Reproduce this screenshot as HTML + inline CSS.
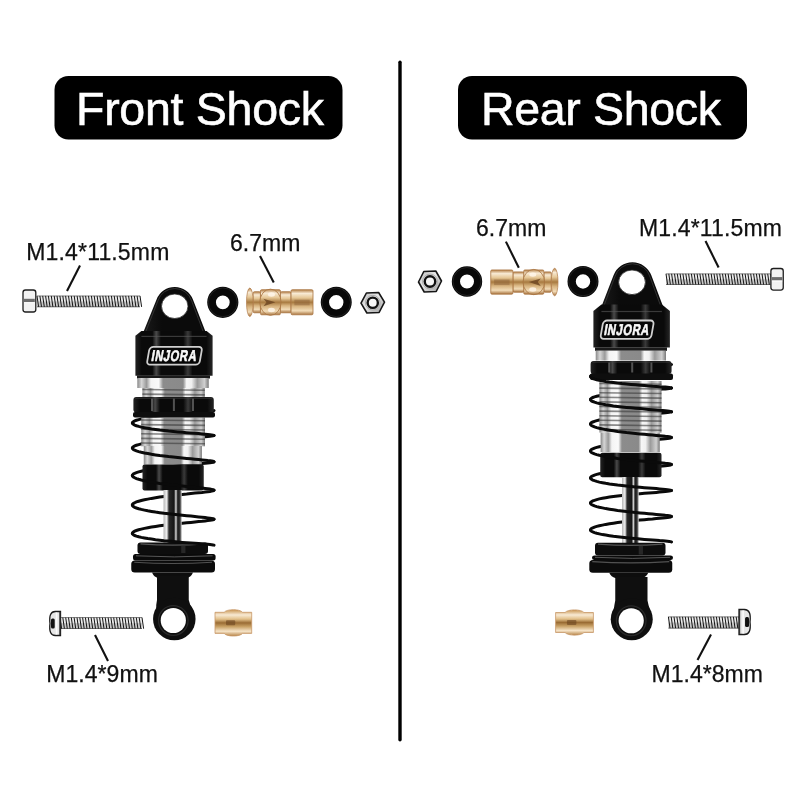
<!DOCTYPE html><html><head><meta charset="utf-8"><style>html,body{margin:0;padding:0;background:#fff;}svg{display:block;will-change:transform;}text{font-family:"Liberation Sans",sans-serif;}</style></head><body>
<svg width="800" height="800" viewBox="0 0 800 800">
<defs>
<linearGradient id="silverg" x1="0" x2="1" y1="0" y2="0">
<stop offset="0" stop-color="#8a8a8a"/><stop offset="0.06" stop-color="#d6d6d6"/><stop offset="0.13" stop-color="#9a9a9a"/><stop offset="0.19" stop-color="#f4f4f4"/><stop offset="0.3" stop-color="#fafafa"/>
<stop offset="0.36" stop-color="#8c8c8c"/><stop offset="0.64" stop-color="#8a8a8a"/><stop offset="0.69" stop-color="#f6f6f6"/><stop offset="0.76" stop-color="#f0f0f0"/><stop offset="0.84" stop-color="#9a9a9a"/><stop offset="0.94" stop-color="#d0d0d0"/><stop offset="1" stop-color="#7a7a7a"/></linearGradient>
<linearGradient id="blackg" x1="0" x2="1" y1="0" y2="0">
<stop offset="0" stop-color="#222"/><stop offset="0.08" stop-color="#0a0a0a"/><stop offset="0.22" stop-color="#0a0a0a"/><stop offset="0.27" stop-color="#4a4a4a"/><stop offset="0.33" stop-color="#0a0a0a"/>
<stop offset="0.62" stop-color="#0a0a0a"/><stop offset="0.68" stop-color="#3a3a3a"/><stop offset="0.74" stop-color="#0a0a0a"/><stop offset="0.92" stop-color="#0a0a0a"/><stop offset="1" stop-color="#262626"/></linearGradient>
<linearGradient id="earg" x1="0" x2="1" y1="0" y2="0">
<stop offset="0" stop-color="#1a1a1a"/><stop offset="0.3" stop-color="#0b0b0b"/><stop offset="1" stop-color="#0b0b0b"/></linearGradient>
<linearGradient id="shaftg" x1="0" x2="1" y1="0" y2="0">
<stop offset="0" stop-color="#b8b8b8"/><stop offset="0.18" stop-color="#f0f0f0"/><stop offset="0.3" stop-color="#2a2a2a"/><stop offset="0.58" stop-color="#151515"/><stop offset="0.68" stop-color="#d8d8d8"/><stop offset="0.78" stop-color="#1a1a1a"/><stop offset="0.9" stop-color="#333"/><stop offset="1" stop-color="#c8c8c8"/></linearGradient>
<linearGradient id="brassg" x1="0" x2="0" y1="0" y2="1">
<stop offset="0" stop-color="#b48048"/><stop offset="0.15" stop-color="#f8ead4"/><stop offset="0.32" stop-color="#e6c898"/><stop offset="0.5" stop-color="#a87a40"/><stop offset="0.66" stop-color="#d8b480"/><stop offset="0.84" stop-color="#f2dcb8"/><stop offset="1" stop-color="#a87440"/></linearGradient>
<linearGradient id="thread" x1="0" x2="0" y1="0" y2="1">
<stop offset="0" stop-color="#777"/><stop offset="0.35" stop-color="#e0e0e0"/><stop offset="0.65" stop-color="#666"/><stop offset="1" stop-color="#444"/></linearGradient>
<linearGradient id="headg" x1="0" x2="0" y1="0" y2="1">
<stop offset="0" stop-color="#d0d0d0"/><stop offset="0.35" stop-color="#f6f6f6"/><stop offset="0.5" stop-color="#555"/><stop offset="0.65" stop-color="#eee"/><stop offset="1" stop-color="#bbb"/></linearGradient>
<linearGradient id="bushg" x1="0" x2="0" y1="0" y2="1">
<stop offset="0" stop-color="#c89450"/><stop offset="0.2" stop-color="#f8ead4"/><stop offset="0.36" stop-color="#e2c08a"/><stop offset="0.5" stop-color="#9a6c34"/><stop offset="0.64" stop-color="#c8a064"/><stop offset="0.82" stop-color="#f6e4c8"/><stop offset="1" stop-color="#b8864a"/></linearGradient>
<linearGradient id="nutg" x1="0" x2="1" y1="0" y2="1">
<stop offset="0" stop-color="#bdbdbd"/><stop offset="0.45" stop-color="#e8e8e8"/><stop offset="1" stop-color="#9a9a9a"/></linearGradient>
</defs>
<rect width="800" height="800" fill="#fff"/>
<line x1="400" y1="62.2" x2="400" y2="739.8" stroke="#000" stroke-width="3.4" stroke-linecap="round"/>
<rect x="54.5" y="76" width="288" height="63.5" rx="14" fill="#000"/>
<rect x="458" y="76" width="289" height="63.5" rx="14" fill="#000"/>
<text x="76" y="124.8" font-size="46.5" fill="#fff" stroke="#fff" stroke-width="0.6" textLength="248">Front Shock</text>
<text x="481" y="124.8" font-size="46.5" fill="#fff" stroke="#fff" stroke-width="0.6" textLength="240">Rear Shock</text>
<text x="26.3" y="259.6" font-size="23" fill="#111" stroke="#111" stroke-width="0.25" textLength="143">M1.4*11.5mm</text>
<text x="230" y="251" font-size="23" fill="#111" stroke="#111" stroke-width="0.25" textLength="70.5">6.7mm</text>
<text x="46.3" y="681.8" font-size="23" fill="#111" stroke="#111" stroke-width="0.25" textLength="111.5">M1.4*9mm</text>
<text x="476" y="236" font-size="23" fill="#111" stroke="#111" stroke-width="0.25" textLength="70.5">6.7mm</text>
<text x="639" y="235.5" font-size="23" fill="#111" stroke="#111" stroke-width="0.25" textLength="143">M1.4*11.5mm</text>
<text x="651.5" y="681.6" font-size="23" fill="#111" stroke="#111" stroke-width="0.25" textLength="111.5">M1.4*8mm</text>
<line x1="80" y1="265.6" x2="67" y2="291" stroke="#111" stroke-width="2.1"/>
<line x1="260" y1="256" x2="273.75" y2="282.5" stroke="#111" stroke-width="2.1"/>
<line x1="95" y1="635" x2="108" y2="661" stroke="#111" stroke-width="2.1"/>
<line x1="505.9" y1="241.6" x2="518.8" y2="267.75" stroke="#111" stroke-width="2.1"/>
<line x1="705.5" y1="241" x2="718.6" y2="267.5" stroke="#111" stroke-width="2.1"/>
<line x1="711" y1="634.5" x2="697.5" y2="660" stroke="#111" stroke-width="2.1"/>
<rect x="37" y="295.6" width="103" height="11.6" rx="0" fill="#ececec" /><rect x="37" y="301.4" width="103" height="5.8" rx="0" fill="#888" opacity="0.35"/><path d="M37.0,295.9 L38.6,306.9 M39.9,295.9 L41.5,306.9 M42.7,295.9 L44.3,306.9 M45.6,295.9 L47.2,306.9 M48.4,295.9 L50.0,306.9 M51.3,295.9 L52.9,306.9 M54.2,295.9 L55.8,306.9 M57.0,295.9 L58.6,306.9 M59.9,295.9 L61.5,306.9 M62.8,295.9 L64.3,306.9 M65.6,295.9 L67.2,306.9 M68.5,295.9 L70.1,306.9 M71.3,295.9 L72.9,306.9 M74.2,295.9 L75.8,306.9 M77.1,295.9 L78.7,306.9 M79.9,295.9 L81.5,306.9 M82.8,295.9 L84.4,306.9 M85.6,295.9 L87.2,306.9 M88.5,295.9 L90.1,306.9 M91.4,295.9 L93.0,306.9 M94.2,295.9 L95.8,306.9 M97.1,295.9 L98.7,306.9 M99.9,295.9 L101.5,306.9 M102.8,295.9 L104.4,306.9 M105.7,295.9 L107.3,306.9 M108.5,295.9 L110.1,306.9 M111.4,295.9 L113.0,306.9 M114.2,295.9 L115.8,306.9 M117.1,295.9 L118.7,306.9 M120.0,295.9 L121.6,306.9 M122.8,295.9 L124.4,306.9 M125.7,295.9 L127.3,306.9 M128.6,295.9 L130.2,306.9 M131.4,295.9 L133.0,306.9 M134.3,295.9 L135.9,306.9 M137.1,295.9 L138.7,306.9 M140.0,295.9 L141.6,306.9 " stroke="#141414" stroke-width="1.0" fill="none"/><rect x="37" y="295.6" width="103" height="0.8" rx="0" fill="#333" opacity="0.7"/><rect x="37" y="306.4" width="103" height="0.8" rx="0" fill="#222" opacity="0.7"/><rect x="23" y="290" width="12.8" height="22" rx="2.5" fill="#f2f2f2" stroke="#1e1e1e" stroke-width="1.3"/><rect x="24" y="298.8" width="10.8" height="3.4" rx="0" fill="#555" opacity="0.85"/><rect x="24" y="302.2" width="10.8" height="1" rx="0" fill="#fff" />
<circle cx="222.8" cy="302.3" r="11.25" fill="none" stroke="#080808" stroke-width="8.7"/><circle cx="222.8" cy="302.3" r="14.4" fill="none" stroke="#3a3a3a" stroke-width="0.8" opacity="0.6"/>
<rect x="253.15" y="291.7" width="7.31" height="21.09" rx="1.2" fill="url(#brassg)" stroke="#a87440" stroke-width="0.8"/><rect x="260.46" y="289.71" width="19.95" height="25.08" rx="1.2" fill="url(#brassg)" stroke="#a87440" stroke-width="0.8"/><rect x="280.42" y="291.7" width="10.64" height="21.09" rx="1.2" fill="url(#brassg)" stroke="#a87440" stroke-width="0.8"/><rect x="291.06" y="289.71" width="21.94" height="25.08" rx="1.2" fill="url(#brassg)" stroke="#a87440" stroke-width="0.8"/><ellipse cx="249.82" cy="302.25" rx="3.33" ry="14.25" fill="url(#brassg)" stroke="#b07a48" stroke-width="0.7"/><ellipse cx="270.44" cy="302.25" rx="10.64" ry="13.11" fill="url(#brassg)" stroke="#a87440" stroke-width="0.8"/><path d="M263.44,298.75 L275.44,302.25 L263.44,306.25 L266.44,302.25 Z" fill="#6a4420" opacity="0.8"/><ellipse cx="271.44" cy="294.56" rx="3.5" ry="2.2" fill="#fff6ea" opacity="0.85"/><ellipse cx="271.44" cy="309.94" rx="3.5" ry="2.2" fill="#fff6ea" opacity="0.85"/><rect x="294.38" y="299.75" width="15.3" height="5.5" rx="0" fill="#8a6038" opacity="0.45"/>
<circle cx="336.25" cy="302.3" r="11.35" fill="none" stroke="#080808" stroke-width="8.3"/><circle cx="336.25" cy="302.3" r="14.3" fill="none" stroke="#3a3a3a" stroke-width="0.8" opacity="0.6"/>
<polygon points="361.0,303.2 366.4,293.0 378.6,292.5 384.5,302.2 379.1,312.5 366.9,313.0" fill="url(#nutg)" stroke="#161616" stroke-width="1.6" stroke-linejoin="round"/><circle cx="372.75" cy="302.75" r="5.12" fill="#f6f6f6" stroke="#111" stroke-width="2.4"/><circle cx="372.75" cy="302.75" r="7.33" fill="none" stroke="#aaa" stroke-width="1"/>
<rect x="60" y="617.2" width="82" height="11.8" rx="0" fill="#ececec" /><rect x="60" y="623.1" width="82" height="5.9" rx="0" fill="#888" opacity="0.35"/><path d="M60.0,617.5 L61.6,628.7 M62.8,617.5 L64.4,628.7 M65.7,617.5 L67.3,628.7 M68.5,617.5 L70.1,628.7 M71.3,617.5 L72.9,628.7 M74.1,617.5 L75.7,628.7 M77.0,617.5 L78.6,628.7 M79.8,617.5 L81.4,628.7 M82.6,617.5 L84.2,628.7 M85.4,617.5 L87.0,628.7 M88.3,617.5 L89.9,628.7 M91.1,617.5 L92.7,628.7 M93.9,617.5 L95.5,628.7 M96.8,617.5 L98.4,628.7 M99.6,617.5 L101.2,628.7 M102.4,617.5 L104.0,628.7 M105.2,617.5 L106.8,628.7 M108.1,617.5 L109.7,628.7 M110.9,617.5 L112.5,628.7 M113.7,617.5 L115.3,628.7 M116.6,617.5 L118.2,628.7 M119.4,617.5 L121.0,628.7 M122.2,617.5 L123.8,628.7 M125.0,617.5 L126.6,628.7 M127.9,617.5 L129.5,628.7 M130.7,617.5 L132.3,628.7 M133.5,617.5 L135.1,628.7 M136.3,617.5 L137.9,628.7 M139.2,617.5 L140.8,628.7 M142.0,617.5 L143.6,628.7 " stroke="#141414" stroke-width="1.0" fill="none"/><rect x="60" y="617.2" width="82" height="0.8" rx="0" fill="#333" opacity="0.7"/><rect x="60" y="628.2" width="82" height="0.8" rx="0" fill="#222" opacity="0.7"/><path d="M60.5,611.5 L55.25,611.5 Q48.5,611.5 50,623.5 Q48.5,635.5 55.25,635.5 L60.5,635.5 Z" fill="#e6e6e6" stroke="#1a1a1a" stroke-width="1.3"/><rect x="51" y="618.5" width="3.73" height="10" rx="1.5" fill="#111" /><rect x="55.77" y="612.5" width="1.58" height="22" rx="0" fill="#fafafa" /><rect x="59.3" y="612" width="1.2" height="23" rx="0" fill="#333" />
<path d="M215,612.3 L224.18,612.3 C226.74,608.8 239.96,608.8 242.52,612.3 L251.7,612.3 L251.7,633.4 L242.52,633.4 C239.96,636.9 226.74,636.9 224.18,633.4 L215,633.4 Z" fill="url(#bushg)" stroke="#c89868" stroke-width="0.8"/><rect x="226.01" y="620.35" width="9.18" height="5" rx="1" fill="#6a4420" opacity="0.6"/>
<polygon points="418.5,282.0 423.8,271.5 435.8,271.0 441.5,281.0 436.2,291.5 424.2,292.0" fill="url(#nutg)" stroke="#161616" stroke-width="1.6" stroke-linejoin="round"/><circle cx="430" cy="281.5" r="5.25" fill="#f6f6f6" stroke="#111" stroke-width="2.4"/><circle cx="430" cy="281.5" r="7.45" fill="none" stroke="#aaa" stroke-width="1"/>
<circle cx="467" cy="281.5" r="11.1" fill="none" stroke="#080808" stroke-width="8.2"/><circle cx="467" cy="281.5" r="14" fill="none" stroke="#3a3a3a" stroke-width="0.8" opacity="0.6"/>
<rect x="543.88" y="271.88" width="7.4" height="20.35" rx="1.2" fill="url(#brassg)" stroke="#a87440" stroke-width="0.8"/><rect x="523.7" y="269.95" width="20.18" height="24.2" rx="1.2" fill="url(#brassg)" stroke="#a87440" stroke-width="0.8"/><rect x="512.94" y="271.88" width="10.76" height="20.35" rx="1.2" fill="url(#brassg)" stroke="#a87440" stroke-width="0.8"/><rect x="490.75" y="269.95" width="22.19" height="24.2" rx="1.2" fill="url(#brassg)" stroke="#a87440" stroke-width="0.8"/><ellipse cx="554.64" cy="282.05" rx="3.36" ry="13.75" fill="url(#brassg)" stroke="#b07a48" stroke-width="0.7"/><ellipse cx="533.79" cy="282.05" rx="10.76" ry="12.65" fill="url(#brassg)" stroke="#a87440" stroke-width="0.8"/><path d="M540.79,278.55 L528.79,282.05 L540.79,286.05 L537.79,282.05 Z" fill="#6a4420" opacity="0.8"/><ellipse cx="532.79" cy="274.62" rx="3.5" ry="2.2" fill="#fff6ea" opacity="0.85"/><ellipse cx="532.79" cy="289.48" rx="3.5" ry="2.2" fill="#fff6ea" opacity="0.85"/><rect x="494.11" y="279.55" width="15.47" height="5.5" rx="0" fill="#8a6038" opacity="0.45"/>
<circle cx="583" cy="281.5" r="11.35" fill="none" stroke="#080808" stroke-width="8.3"/><circle cx="583" cy="281.5" r="14.3" fill="none" stroke="#3a3a3a" stroke-width="0.8" opacity="0.6"/>
<rect x="666" y="273.5" width="104.5" height="11.5" rx="0" fill="#ececec" /><rect x="666" y="279.25" width="104.5" height="5.75" rx="0" fill="#888" opacity="0.35"/><path d="M666.0,273.8 L667.6,284.7 M668.8,273.8 L670.4,284.7 M671.6,273.8 L673.2,284.7 M674.5,273.8 L676.1,284.7 M677.3,273.8 L678.9,284.7 M680.1,273.8 L681.7,284.7 M682.9,273.8 L684.5,284.7 M685.8,273.8 L687.4,284.7 M688.6,273.8 L690.2,284.7 M691.4,273.8 L693.0,284.7 M694.2,273.8 L695.8,284.7 M697.1,273.8 L698.7,284.7 M699.9,273.8 L701.5,284.7 M702.7,273.8 L704.3,284.7 M705.5,273.8 L707.1,284.7 M708.4,273.8 L710.0,284.7 M711.2,273.8 L712.8,284.7 M714.0,273.8 L715.6,284.7 M716.8,273.8 L718.4,284.7 M719.7,273.8 L721.3,284.7 M722.5,273.8 L724.1,284.7 M725.3,273.8 L726.9,284.7 M728.1,273.8 L729.7,284.7 M731.0,273.8 L732.6,284.7 M733.8,273.8 L735.4,284.7 M736.6,273.8 L738.2,284.7 M739.4,273.8 L741.0,284.7 M742.3,273.8 L743.9,284.7 M745.1,273.8 L746.7,284.7 M747.9,273.8 L749.5,284.7 M750.7,273.8 L752.3,284.7 M753.6,273.8 L755.2,284.7 M756.4,273.8 L758.0,284.7 M759.2,273.8 L760.8,284.7 M762.0,273.8 L763.6,284.7 M764.9,273.8 L766.5,284.7 M767.7,273.8 L769.3,284.7 M770.5,273.8 L772.1,284.7 " stroke="#141414" stroke-width="1.0" fill="none"/><rect x="666" y="273.5" width="104.5" height="0.8" rx="0" fill="#333" opacity="0.7"/><rect x="666" y="284.2" width="104.5" height="0.8" rx="0" fill="#222" opacity="0.7"/><rect x="770.9" y="268.5" width="12.35" height="21.6" rx="2.5" fill="#f2f2f2" stroke="#1e1e1e" stroke-width="1.3"/><rect x="771.9" y="277.1" width="10.35" height="3.4" rx="0" fill="#555" opacity="0.85"/><rect x="771.9" y="280.5" width="10.35" height="1" rx="0" fill="#fff" />
<path d="M555.6,612.5 L565.05,612.5 C567.7,609 581.3,609 583.95,612.5 L593.4,612.5 L593.4,632.5 L583.95,632.5 C581.3,636 567.7,636 565.05,632.5 L555.6,632.5 Z" fill="url(#bushg)" stroke="#c89868" stroke-width="0.8"/><rect x="566.94" y="620" width="9.45" height="5" rx="1" fill="#6a4420" opacity="0.6"/>
<rect x="668.4" y="616.5" width="70.6" height="12" rx="0" fill="#ececec" /><rect x="668.4" y="622.5" width="70.6" height="6" rx="0" fill="#888" opacity="0.35"/><path d="M668.4,616.8 L670.0,628.2 M671.2,616.8 L672.8,628.2 M674.0,616.8 L675.6,628.2 M676.9,616.8 L678.5,628.2 M679.7,616.8 L681.3,628.2 M682.5,616.8 L684.1,628.2 M685.3,616.8 L686.9,628.2 M688.2,616.8 L689.8,628.2 M691.0,616.8 L692.6,628.2 M693.8,616.8 L695.4,628.2 M696.6,616.8 L698.2,628.2 M699.5,616.8 L701.1,628.2 M702.3,616.8 L703.9,628.2 M705.1,616.8 L706.7,628.2 M707.9,616.8 L709.5,628.2 M710.8,616.8 L712.4,628.2 M713.6,616.8 L715.2,628.2 M716.4,616.8 L718.0,628.2 M719.2,616.8 L720.8,628.2 M722.1,616.8 L723.7,628.2 M724.9,616.8 L726.5,628.2 M727.7,616.8 L729.3,628.2 M730.5,616.8 L732.1,628.2 M733.4,616.8 L735.0,628.2 M736.2,616.8 L737.8,628.2 M739.0,616.8 L740.6,628.2 " stroke="#141414" stroke-width="1.0" fill="none"/><rect x="668.4" y="616.5" width="70.6" height="0.8" rx="0" fill="#333" opacity="0.7"/><rect x="668.4" y="627.7" width="70.6" height="0.8" rx="0" fill="#222" opacity="0.7"/><path d="M739,609.5 L744.5,609.5 Q751.5,609.5 750,622 Q751.5,634.5 744.5,634.5 L739,634.5 Z" fill="#e6e6e6" stroke="#1a1a1a" stroke-width="1.3"/><rect x="745.05" y="617" width="3.95" height="10" rx="1.5" fill="#111" /><rect x="742.3" y="610.5" width="1.65" height="23" rx="0" fill="#fafafa" /><rect x="739" y="610" width="1.2" height="24" rx="0" fill="#333" />
<path d="M214.0,410.5 L213.7,410.7 L213.0,410.9 L211.7,411.1 L210.0,411.3 L207.7,411.6 L205.1,411.8 L202.0,412.1 L198.6,412.4 L194.9,412.7 L190.9,413.0 L186.7,413.3 L182.3,413.7 L177.8,414.1 L173.2,414.6 L168.6,415.0 L164.1,415.5 L159.7,416.0 L155.5,416.6 L151.5,417.1 L147.8,417.7 L144.4,418.3 L141.3,418.9 L138.7,419.6 L136.4,420.3 L134.7,420.9 L133.4,421.6 L132.7,422.3 L132.4,423.0 M214.0,435.5 L213.7,435.7 L213.0,435.9 L211.7,436.1 L210.0,436.3 L207.7,436.6 L205.1,436.8 L202.0,437.1 L198.6,437.4 L194.9,437.7 L190.9,438.0 L186.7,438.3 L182.3,438.7 L177.8,439.1 L173.2,439.6 L168.6,440.0 L164.1,440.5 L159.7,441.0 L155.5,441.6 L151.5,442.1 L147.8,442.7 L144.4,443.3 L141.3,443.9 L138.7,444.6 L136.4,445.3 L134.7,445.9 L133.4,446.6 L132.7,447.3 L132.4,448.0 M214.0,461.8 L213.7,462.0 L213.0,462.2 L211.7,462.5 L210.0,462.8 L207.7,463.0 L205.1,463.3 L202.0,463.6 L198.6,464.0 L194.9,464.3 L190.9,464.7 L186.7,465.1 L182.3,465.5 L177.8,465.9 L173.2,466.4 L168.6,466.9 L164.1,467.5 L159.7,468.0 L155.5,468.6 L151.5,469.2 L147.8,469.9 L144.4,470.5 L141.3,471.2 L138.7,471.9 L136.4,472.6 L134.7,473.3 L133.4,474.0 L132.7,474.8 L132.4,475.5 M214.0,490.2 L213.7,490.5 L213.0,490.8 L211.7,491.1 L210.0,491.4 L207.7,491.7 L205.1,492.0 L202.0,492.4 L198.6,492.7 L194.9,493.1 L190.9,493.5 L186.7,494.0 L182.3,494.4 L177.8,494.9 L173.2,495.4 L168.6,496.0 L164.1,496.5 L159.7,497.1 L155.5,497.8 L151.5,498.4 L147.8,499.1 L144.4,499.8 L141.3,500.5 L138.7,501.2 L136.4,501.9 L134.7,502.7 L133.4,503.5 L132.7,504.2 L132.4,505.0 M214.0,519.2 L213.7,519.5 L213.0,519.8 L211.7,520.1 L210.0,520.3 L207.7,520.6 L205.1,520.9 L202.0,521.3 L198.6,521.6 L194.9,522.0 L190.9,522.4 L186.7,522.8 L182.3,523.2 L177.8,523.7 L173.2,524.2 L168.6,524.7 L164.1,525.2 L159.7,525.8 L155.5,526.4 L151.5,527.1 L147.8,527.7 L144.4,528.4 L141.3,529.1 L138.7,529.8 L136.4,530.5 L134.7,531.2 L133.4,532.0 L132.7,532.7 L132.4,533.5" fill="none" stroke="#0a0a0a" stroke-width="3.0" stroke-linecap="round"/><rect x="142.4" y="387" width="62.4" height="11" rx="0" fill="url(#silverg)" /><path d="M142.4,389.5 L204.8,390.3 M142.4,394.1 L204.8,394.9 " stroke="#3a3a3a" stroke-width="1.6" opacity="0.6" fill="none"/><rect x="141.25" y="417.5" width="63.75" height="28.8" rx="0" fill="url(#silverg)" /><path d="M141.2,420.0 L205.0,420.8 M141.2,424.6 L205.0,425.4 M141.2,429.2 L205.0,430.0 M141.2,433.8 L205.0,434.6 M141.2,438.4 L205.0,439.2 M141.2,443.0 L205.0,443.8 " stroke="#3a3a3a" stroke-width="1.6" opacity="0.6" fill="none"/><rect x="143.75" y="446" width="58.15" height="18.5" rx="0" fill="url(#silverg)" /><rect x="142.5" y="464.4" width="61.25" height="26.1" rx="2" fill="url(#blackg)" /><rect x="163.5" y="490" width="18.25" height="57" rx="0" fill="url(#shaftg)" /><path d="M143,333 L156.67,299.19 A19.5,19.5 0 0,1 192.92,299.42 L206,333 Z" fill="url(#earg)"/><path d="M145.6,332 L157.88,300.85 A17.7,17.7 0 0,1 191.71,301.11 L203.4,332" fill="none" stroke="#3c3c3c" stroke-width="1" opacity="0.8"/><ellipse cx="174.75" cy="306.25" rx="13.25" ry="12.25" fill="#fff" stroke="#2a2a2a" stroke-width="0.8"/><path d="M141.4,331 L206.6,331 L212.6,335.8 L212.6,375.7 L135.4,375.7 L135.4,335.8 Z" fill="url(#blackg)"/><rect x="141.4" y="335.8" width="65.2" height="1.2" rx="0" fill="#5a5a5a" opacity="0.6"/><g transform="translate(174.5,355.75) skewX(-10)"><rect x="-26.3" y="-8.95" width="52.6" height="17.9" rx="3.5" fill="#060606" stroke="#d0d0d0" stroke-width="1.8"/><text x="0" y="5.4" text-anchor="middle" font-weight="bold" font-size="15.5" fill="#f8f8f8" stroke="#f8f8f8" stroke-width="0.6" letter-spacing="0.8" transform="scale(0.72,1)">INJORA</text></g><rect x="137" y="375.5" width="73" height="3" rx="0" fill="#1a1a1a" /><rect x="137.3" y="378" width="71.45" height="10" rx="0" fill="url(#silverg)" /><rect x="133.4" y="397" width="80.4" height="15.5" rx="3" fill="url(#blackg)" /><rect x="151" y="398.5" width="2" height="12.5" rx="0" fill="#6a6a6a" opacity="0.75"/><rect x="172.9" y="398.5" width="2" height="12.5" rx="0" fill="#6a6a6a" opacity="0.75"/><rect x="192" y="398.5" width="2" height="12.5" rx="0" fill="#6a6a6a" opacity="0.75"/><rect x="135.4" y="397.5" width="76.4" height="1.3" rx="0" fill="#444" opacity="0.6"/><rect x="133" y="412" width="82" height="5.5" rx="2" fill="#0e0e0e" /><path d="M152,572.5 L193,572.5 Q191,577 187,578 L158,578 Q154,577 152,572.5 Z" fill="#0d0d0d"/><rect x="131.25" y="560.6" width="83.75" height="11.9" rx="3.5" fill="#0b0b0b" /><path d="M134.25,562.2 Q173.12,564.7 212,562.2" fill="none" stroke="#6a6a6a" stroke-width="1.1" opacity="0.75"/><rect x="133" y="554" width="82.6" height="6.6" rx="2.5" fill="#0a0a0a" /><path d="M136,555.8 Q174.3,558 212.6,555.8" fill="none" stroke="#808080" stroke-width="1" opacity="0.65"/><rect x="137.5" y="542.5" width="70.5" height="11.5" rx="3" fill="#0d0d0d" /><path d="M140.5,543.9 Q172.75,546.4 205,543.9" fill="none" stroke="#6e6e6e" stroke-width="1.2" opacity="0.75"/><rect x="181.21" y="545.5" width="4.23" height="7.5" rx="0" fill="#333" opacity="0.7"/><path d="M157,576 L188.75,576 L188.75,600 Q189.75,605 192.36,608.38 L156.24,608.38 Q156,605 157,600 Z" fill="#0f0f0f"/><circle cx="174.3" cy="619" r="21.25" fill="#0f0f0f"/><circle cx="173.3" cy="620.5" r="14.8" fill="none" stroke="#2a2a2a" stroke-width="1.2"/><circle cx="173.3" cy="620.5" r="12.6" fill="#fff"/><path d="M132.4,423.0 L132.7,423.7 L133.4,424.4 L134.7,425.1 L136.4,425.7 L138.7,426.4 L141.3,427.1 L144.4,427.7 L147.8,428.3 L151.5,428.9 L155.5,429.4 L159.7,430.0 L164.1,430.5 L168.6,431.0 L173.2,431.4 L177.8,431.9 L182.3,432.3 L186.7,432.7 L190.9,433.0 L194.9,433.3 L198.6,433.6 L202.0,433.9 L205.1,434.2 L207.7,434.4 L210.0,434.7 L211.7,434.9 L213.0,435.1 L213.7,435.3 L214.0,435.5 M132.4,448.0 L132.7,448.7 L133.4,449.5 L134.7,450.2 L136.4,450.9 L138.7,451.6 L141.3,452.3 L144.4,453.0 L147.8,453.6 L151.5,454.3 L155.5,454.9 L159.7,455.5 L164.1,456.0 L168.6,456.6 L173.2,457.1 L177.8,457.6 L182.3,458.0 L186.7,458.4 L190.9,458.8 L194.9,459.2 L198.6,459.5 L202.0,459.9 L205.1,460.2 L207.7,460.5 L210.0,460.7 L211.7,461.0 L213.0,461.3 L213.7,461.5 L214.0,461.8 M132.4,475.5 L132.7,476.3 L133.4,477.0 L134.7,477.8 L136.4,478.6 L138.7,479.3 L141.3,480.0 L144.4,480.7 L147.8,481.4 L151.5,482.1 L155.5,482.7 L159.7,483.4 L164.1,484.0 L168.6,484.5 L173.2,485.1 L177.8,485.6 L182.3,486.1 L186.7,486.5 L190.9,487.0 L194.9,487.4 L198.6,487.8 L202.0,488.1 L205.1,488.5 L207.7,488.8 L210.0,489.1 L211.7,489.4 L213.0,489.7 L213.7,490.0 L214.0,490.2 M132.4,505.0 L132.7,505.8 L133.4,506.5 L134.7,507.3 L136.4,508.0 L138.7,508.7 L141.3,509.4 L144.4,510.1 L147.8,510.8 L151.5,511.4 L155.5,512.1 L159.7,512.7 L164.1,513.3 L168.6,513.8 L173.2,514.3 L177.8,514.8 L182.3,515.3 L186.7,515.7 L190.9,516.1 L194.9,516.5 L198.6,516.9 L202.0,517.2 L205.1,517.6 L207.7,517.9 L210.0,518.2 L211.7,518.4 L213.0,518.7 L213.7,519.0 L214.0,519.2 M132.4,533.5 L132.7,534.2 L133.4,534.8 L134.7,535.5 L136.4,536.1 L138.7,536.8 L141.3,537.4 L144.4,538.0 L147.8,538.6 L151.5,539.1 L155.5,539.7 L159.7,540.2 L164.1,540.7 L168.6,541.1 L173.2,541.6 L177.8,542.0 L182.3,542.4 L186.7,542.7 L190.9,543.0 L194.9,543.3 L198.6,543.6 L202.0,543.9 L205.1,544.1 L207.7,544.3 L210.0,544.5 L211.7,544.7 L213.0,544.9 L213.7,545.1 L214.0,545.2" fill="none" stroke="#0a0a0a" stroke-width="3.0" stroke-linecap="round"/>
<path d="M671.5,364.5 L671.2,364.7 L670.5,364.9 L669.2,365.1 L667.5,365.3 L665.3,365.5 L662.7,365.7 L659.6,365.9 L656.3,366.2 L652.5,366.5 L648.6,366.8 L644.4,367.1 L640.0,367.5 L635.5,367.9 L631.0,368.3 L626.5,368.7 L622.0,369.2 L617.6,369.7 L613.4,370.2 L609.5,370.8 L605.7,371.4 L602.4,371.9 L599.3,372.6 L596.7,373.2 L594.5,373.8 L592.8,374.5 L591.5,375.2 L590.8,375.8 L590.5,376.5 M671.5,388.0 L671.2,388.2 L670.5,388.3 L669.2,388.5 L667.5,388.7 L665.3,388.9 L662.7,389.1 L659.6,389.3 L656.3,389.6 L652.5,389.8 L648.6,390.1 L644.4,390.4 L640.0,390.8 L635.5,391.2 L631.0,391.6 L626.5,392.0 L622.0,392.4 L617.6,392.9 L613.4,393.4 L609.5,393.9 L605.7,394.5 L602.4,395.1 L599.3,395.7 L596.7,396.3 L594.5,396.9 L592.8,397.5 L591.5,398.2 L590.8,398.8 L590.5,399.5 M671.5,411.8 L671.2,411.9 L670.5,412.1 L669.2,412.3 L667.5,412.5 L665.3,412.8 L662.7,413.0 L659.6,413.3 L656.3,413.5 L652.5,413.8 L648.6,414.1 L644.4,414.5 L640.0,414.9 L635.5,415.3 L631.0,415.7 L626.5,416.1 L622.0,416.6 L617.6,417.1 L613.4,417.6 L609.5,418.2 L605.7,418.8 L602.4,419.4 L599.3,420.0 L596.7,420.6 L594.5,421.3 L592.8,422.0 L591.5,422.6 L590.8,423.3 L590.5,424.0 M671.5,437.5 L671.2,437.7 L670.5,438.0 L669.2,438.2 L667.5,438.5 L665.3,438.7 L662.7,439.0 L659.6,439.3 L656.3,439.6 L652.5,440.0 L648.6,440.3 L644.4,440.7 L640.0,441.1 L635.5,441.6 L631.0,442.1 L626.5,442.5 L622.0,443.1 L617.6,443.6 L613.4,444.2 L609.5,444.8 L605.7,445.4 L602.4,446.1 L599.3,446.7 L596.7,447.4 L594.5,448.1 L592.8,448.8 L591.5,449.5 L590.8,450.3 L590.5,451.0 M671.5,464.5 L671.2,464.7 L670.5,465.0 L669.2,465.2 L667.5,465.5 L665.3,465.7 L662.7,466.0 L659.6,466.3 L656.3,466.6 L652.5,467.0 L648.6,467.3 L644.4,467.7 L640.0,468.1 L635.5,468.6 L631.0,469.1 L626.5,469.5 L622.0,470.1 L617.6,470.6 L613.4,471.2 L609.5,471.8 L605.7,472.4 L602.4,473.1 L599.3,473.7 L596.7,474.4 L594.5,475.1 L592.8,475.8 L591.5,476.5 L590.8,477.3 L590.5,478.0 M671.5,490.5 L671.2,490.7 L670.5,490.9 L669.2,491.1 L667.5,491.3 L665.3,491.6 L662.7,491.8 L659.6,492.1 L656.3,492.4 L652.5,492.7 L648.6,493.0 L644.4,493.3 L640.0,493.7 L635.5,494.1 L631.0,494.6 L626.5,495.0 L622.0,495.5 L617.6,496.0 L613.4,496.6 L609.5,497.1 L605.7,497.7 L602.4,498.3 L599.3,498.9 L596.7,499.6 L594.5,500.3 L592.8,500.9 L591.5,501.6 L590.8,502.3 L590.5,503.0 M671.5,516.5 L671.2,516.7 L670.5,517.0 L669.2,517.2 L667.5,517.5 L665.3,517.7 L662.7,518.0 L659.6,518.3 L656.3,518.6 L652.5,519.0 L648.6,519.3 L644.4,519.7 L640.0,520.1 L635.5,520.6 L631.0,521.0 L626.5,521.5 L622.0,522.1 L617.6,522.6 L613.4,523.2 L609.5,523.8 L605.7,524.4 L602.4,525.1 L599.3,525.7 L596.7,526.4 L594.5,527.1 L592.8,527.8 L591.5,528.5 L590.8,529.3 L590.5,530.0" fill="none" stroke="#0a0a0a" stroke-width="3.0" stroke-linecap="round"/><rect x="599.4" y="381" width="62.1" height="51.6" rx="0" fill="url(#silverg)" /><path d="M599.4,383.5 L661.5,384.3 M599.4,388.1 L661.5,388.9 M599.4,392.7 L661.5,393.5 M599.4,397.3 L661.5,398.1 M599.4,401.9 L661.5,402.7 M599.4,406.5 L661.5,407.3 M599.4,411.1 L661.5,411.9 M599.4,415.7 L661.5,416.5 M599.4,420.3 L661.5,421.1 M599.4,424.9 L661.5,425.7 M599.4,429.5 L661.5,430.3 " stroke="#3a3a3a" stroke-width="1.6" opacity="0.6" fill="none"/><rect x="600.6" y="432.6" width="59.15" height="19.4" rx="0" fill="url(#silverg)" /><rect x="600.25" y="452.75" width="61.25" height="24.5" rx="2" fill="url(#blackg)" /><rect x="622" y="477" width="16.75" height="68" rx="0" fill="url(#shaftg)" /><path d="M600.5,309 L613.56,275.22 A20.2,20.2 0 0,1 651.3,275.36 L664,309 Z" fill="url(#earg)"/><path d="M603.1,308 L614.76,276.94 A18.4,18.4 0 0,1 650.09,277.1 L661.4,308" fill="none" stroke="#3c3c3c" stroke-width="1" opacity="0.8"/><ellipse cx="632" cy="282.3" rx="13.4" ry="12.3" fill="#fff" stroke="#2a2a2a" stroke-width="0.8"/><path d="M601.4,304.5 L661.9,304.5 L669.9,310.9 L669.9,347.6 L593.4,347.6 L593.4,310.9 Z" fill="url(#blackg)"/><rect x="601.4" y="310.9" width="60.5" height="1.2" rx="0" fill="#5a5a5a" opacity="0.6"/><g transform="translate(627.15,329.65) skewX(-10)"><rect x="-25.35" y="-9.15" width="50.7" height="18.3" rx="3.5" fill="#060606" stroke="#d0d0d0" stroke-width="1.8"/><text x="0" y="5.4" text-anchor="middle" font-weight="bold" font-size="15.5" fill="#f8f8f8" stroke="#f8f8f8" stroke-width="0.6" letter-spacing="0.8" transform="scale(0.72,1)">INJORA</text></g><rect x="595" y="347.4" width="72" height="3.4" rx="0" fill="#1a1a1a" /><rect x="595.7" y="350.7" width="70.3" height="9.8" rx="0" fill="url(#silverg)" /><rect x="590.6" y="360.9" width="81" height="13.1" rx="3" fill="url(#blackg)" /><rect x="608.2" y="362.4" width="2" height="10.1" rx="0" fill="#6a6a6a" opacity="0.75"/><rect x="631.2" y="362.4" width="2" height="10.1" rx="0" fill="#6a6a6a" opacity="0.75"/><rect x="650.4" y="362.4" width="2" height="10.1" rx="0" fill="#6a6a6a" opacity="0.75"/><rect x="592.6" y="361.4" width="77" height="1.3" rx="0" fill="#444" opacity="0.6"/><rect x="590" y="373.5" width="83" height="6.5" rx="2" fill="#0e0e0e" /><path d="M609.25,572.75 L648.25,572.75 Q646.25,577 642.25,578 L615.25,578 Q611.25,577 609.25,572.75 Z" fill="#0d0d0d"/><rect x="589.3" y="560" width="82.95" height="12.75" rx="3.5" fill="#0b0b0b" /><path d="M592.3,561.6 Q630.77,564.1 669.25,561.6" fill="none" stroke="#6a6a6a" stroke-width="1.1" opacity="0.75"/><rect x="592" y="555.5" width="81" height="4.5" rx="2.5" fill="#0a0a0a" /><path d="M595,557.3 Q632.5,559.5 670,557.3" fill="none" stroke="#808080" stroke-width="1" opacity="0.65"/><rect x="595" y="542.75" width="70.5" height="12.75" rx="3" fill="#0d0d0d" /><path d="M598,544.15 Q630.25,546.65 662.5,544.15" fill="none" stroke="#6e6e6e" stroke-width="1.2" opacity="0.75"/><rect x="638.71" y="545.75" width="4.23" height="8.75" rx="0" fill="#333" opacity="0.7"/><path d="M615.25,577 L647.5,577 L647.5,600.5 Q648.5,605.5 649.6,608.75 L613.9,608.75 Q614.25,605.5 615.25,600.5 Z" fill="#0f0f0f"/><circle cx="631.75" cy="619.25" r="21" fill="#0f0f0f"/><circle cx="631.2" cy="620.75" r="14.8" fill="none" stroke="#2a2a2a" stroke-width="1.2"/><circle cx="631.2" cy="620.75" r="12.6" fill="#fff"/><path d="M590.5,376.5 L590.8,377.2 L591.5,377.8 L592.8,378.5 L594.5,379.1 L596.7,379.7 L599.3,380.3 L602.4,380.9 L605.7,381.5 L609.5,382.1 L613.4,382.6 L617.6,383.1 L622.0,383.6 L626.5,384.0 L631.0,384.4 L635.5,384.8 L640.0,385.2 L644.4,385.6 L648.6,385.9 L652.5,386.2 L656.3,386.4 L659.6,386.7 L662.7,386.9 L665.3,387.1 L667.5,387.3 L669.2,387.5 L670.5,387.7 L671.2,387.8 L671.5,388.0 M590.5,399.5 L590.8,400.2 L591.5,400.9 L592.8,401.5 L594.5,402.2 L596.7,402.9 L599.3,403.5 L602.4,404.1 L605.7,404.7 L609.5,405.3 L613.4,405.9 L617.6,406.4 L622.0,406.9 L626.5,407.4 L631.0,407.8 L635.5,408.2 L640.0,408.6 L644.4,409.0 L648.6,409.4 L652.5,409.7 L656.3,410.0 L659.6,410.2 L662.7,410.5 L665.3,410.7 L667.5,411.0 L669.2,411.2 L670.5,411.4 L671.2,411.6 L671.5,411.8 M590.5,424.0 L590.8,424.7 L591.5,425.5 L592.8,426.2 L594.5,426.9 L596.7,427.6 L599.3,428.3 L602.4,428.9 L605.7,429.6 L609.5,430.2 L613.4,430.8 L617.6,431.4 L622.0,431.9 L626.5,432.5 L631.0,432.9 L635.5,433.4 L640.0,433.9 L644.4,434.3 L648.6,434.7 L652.5,435.0 L656.3,435.4 L659.6,435.7 L662.7,436.0 L665.3,436.3 L667.5,436.5 L669.2,436.8 L670.5,437.0 L671.2,437.3 L671.5,437.5 M590.5,451.0 L590.8,451.7 L591.5,452.5 L592.8,453.2 L594.5,453.9 L596.7,454.6 L599.3,455.3 L602.4,455.9 L605.7,456.6 L609.5,457.2 L613.4,457.8 L617.6,458.4 L622.0,458.9 L626.5,459.5 L631.0,459.9 L635.5,460.4 L640.0,460.9 L644.4,461.3 L648.6,461.7 L652.5,462.0 L656.3,462.4 L659.6,462.7 L662.7,463.0 L665.3,463.3 L667.5,463.5 L669.2,463.8 L670.5,464.0 L671.2,464.3 L671.5,464.5 M590.5,478.0 L590.8,478.7 L591.5,479.4 L592.8,480.1 L594.5,480.7 L596.7,481.4 L599.3,482.1 L602.4,482.7 L605.7,483.3 L609.5,483.9 L613.4,484.4 L617.6,485.0 L622.0,485.5 L626.5,486.0 L631.0,486.4 L635.5,486.9 L640.0,487.3 L644.4,487.7 L648.6,488.0 L652.5,488.3 L656.3,488.6 L659.6,488.9 L662.7,489.2 L665.3,489.4 L667.5,489.7 L669.2,489.9 L670.5,490.1 L671.2,490.3 L671.5,490.5 M590.5,503.0 L590.8,503.7 L591.5,504.5 L592.8,505.2 L594.5,505.9 L596.7,506.6 L599.3,507.3 L602.4,507.9 L605.7,508.6 L609.5,509.2 L613.4,509.8 L617.6,510.4 L622.0,510.9 L626.5,511.5 L631.0,511.9 L635.5,512.4 L640.0,512.9 L644.4,513.3 L648.6,513.7 L652.5,514.0 L656.3,514.4 L659.6,514.7 L662.7,515.0 L665.3,515.3 L667.5,515.5 L669.2,515.8 L670.5,516.0 L671.2,516.3 L671.5,516.5 M590.5,530.0 L590.8,530.7 L591.5,531.3 L592.8,532.0 L594.5,532.7 L596.7,533.3 L599.3,533.9 L602.4,534.6 L605.7,535.1 L609.5,535.7 L613.4,536.3 L617.6,536.8 L622.0,537.3 L626.5,537.8 L631.0,538.2 L635.5,538.6 L640.0,539.0 L644.4,539.4 L648.6,539.7 L652.5,540.0 L656.3,540.3 L659.6,540.6 L662.7,540.8 L665.3,541.0 L667.5,541.2 L669.2,541.4 L670.5,541.6 L671.2,541.8 L671.5,542.0" fill="none" stroke="#0a0a0a" stroke-width="3.0" stroke-linecap="round"/>
</svg></body></html>
